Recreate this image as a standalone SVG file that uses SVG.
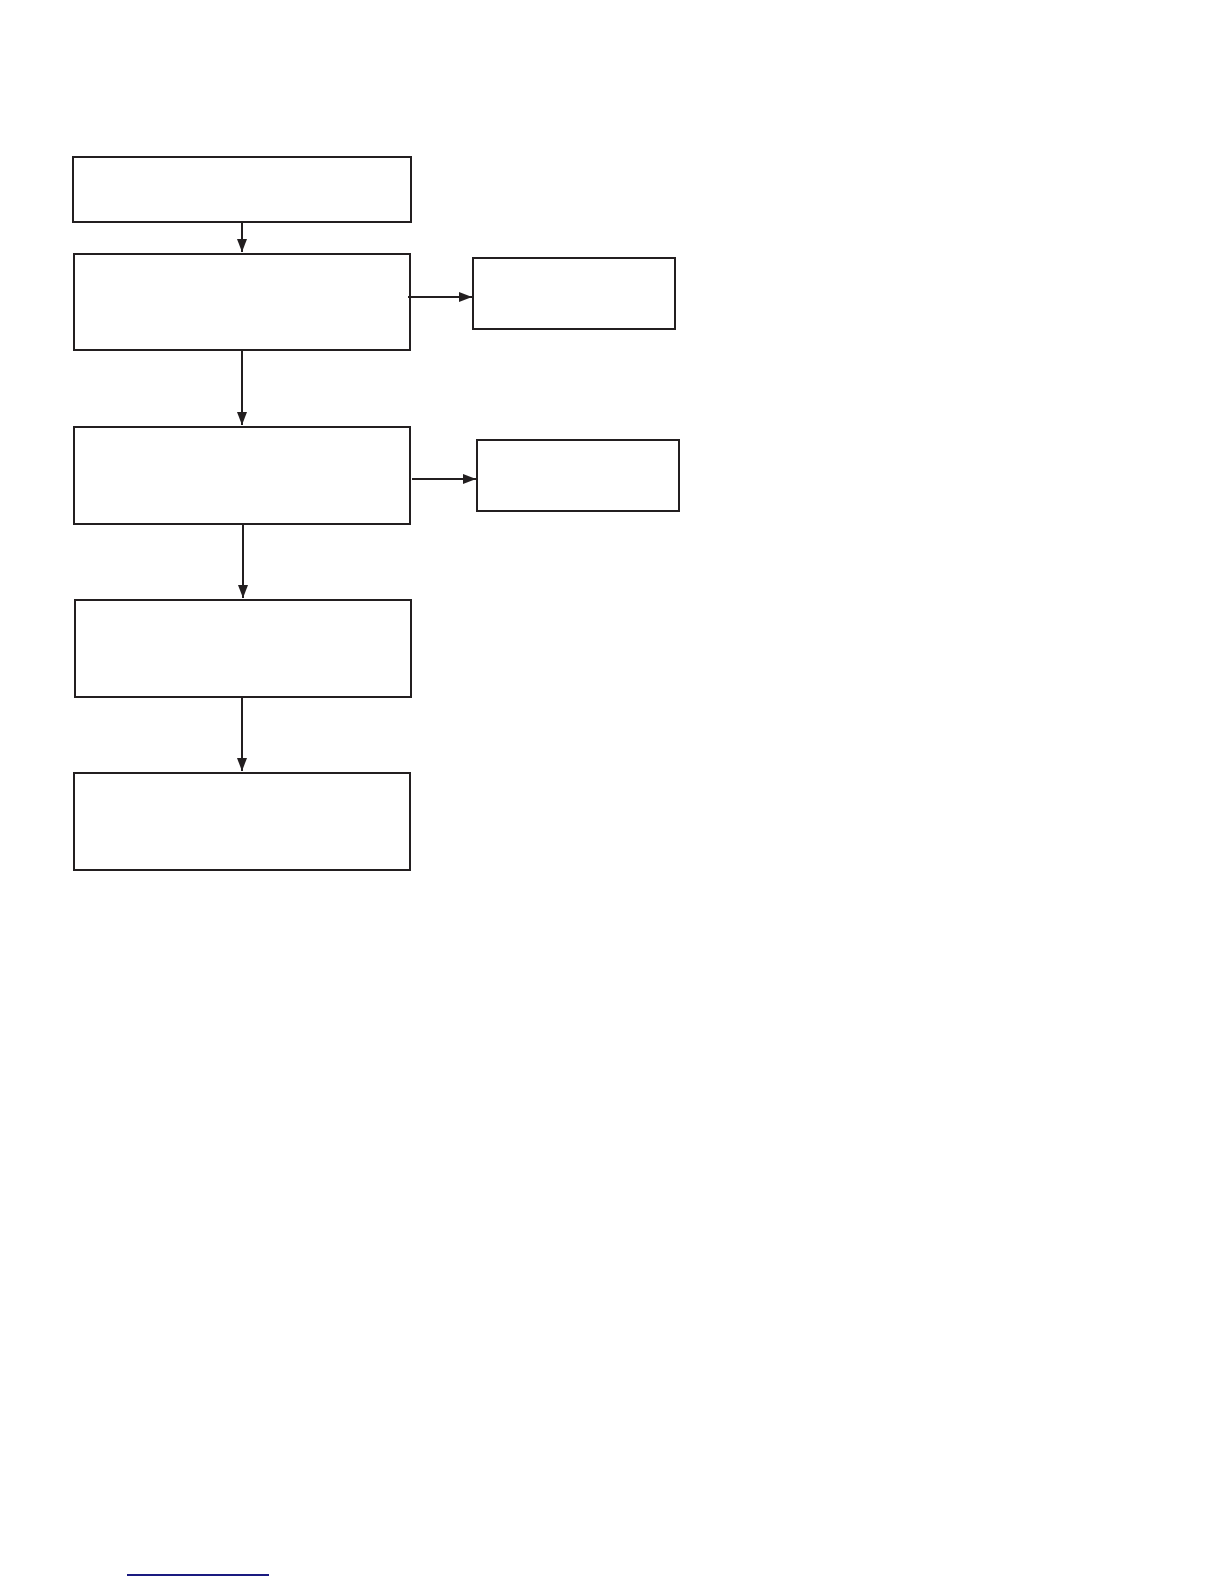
<svg xmlns="http://www.w3.org/2000/svg" width="1224" height="1584" viewBox="0 0 1224 1584">
<style>
.box{fill:#fff;stroke:#231f20;stroke-width:2}
.edge{stroke:#231f20;stroke-width:2;fill:none}
</style>
<defs>
<marker id="arr" markerUnits="userSpaceOnUse" markerWidth="13" markerHeight="10" refX="13" refY="5" orient="auto">
<path d="M0,0 L13,5 L0,10 Z" fill="#231f20"/>
</marker>
</defs>
<rect width="1224" height="1584" fill="#fff"/>
<g id="n1"><rect class="box" x="73" y="157" width="338" height="65"/></g>
<g id="n2"><rect class="box" x="74" y="254" width="336" height="96"/></g>
<g id="n2r"><rect class="box" x="473" y="258" width="202" height="71"/></g>
<g id="n3"><rect class="box" x="74" y="427" width="336" height="97"/></g>
<g id="n3r"><rect class="box" x="477" y="440" width="202" height="71"/></g>
<g id="n4"><rect class="box" x="75" y="600" width="336" height="97"/></g>
<g id="n5"><rect class="box" x="74" y="773" width="336" height="97"/></g>
<g id="connectors">
<line class="edge" x1="242" y1="222" x2="242" y2="252" marker-end="url(#arr)"/>
<line class="edge" x1="242" y1="350" x2="242" y2="425" marker-end="url(#arr)"/>
<line class="edge" x1="243" y1="524" x2="243" y2="598" marker-end="url(#arr)"/>
<line class="edge" x1="242" y1="697" x2="242" y2="771" marker-end="url(#arr)"/>
<line class="edge" x1="408" y1="297" x2="472" y2="297" marker-end="url(#arr)"/>
<line class="edge" x1="412" y1="479" x2="476" y2="479" marker-end="url(#arr)"/>
</g>
<line x1="127" y1="1575" x2="269" y2="1575" stroke="#1a1a80" stroke-width="2"/>
</svg>
